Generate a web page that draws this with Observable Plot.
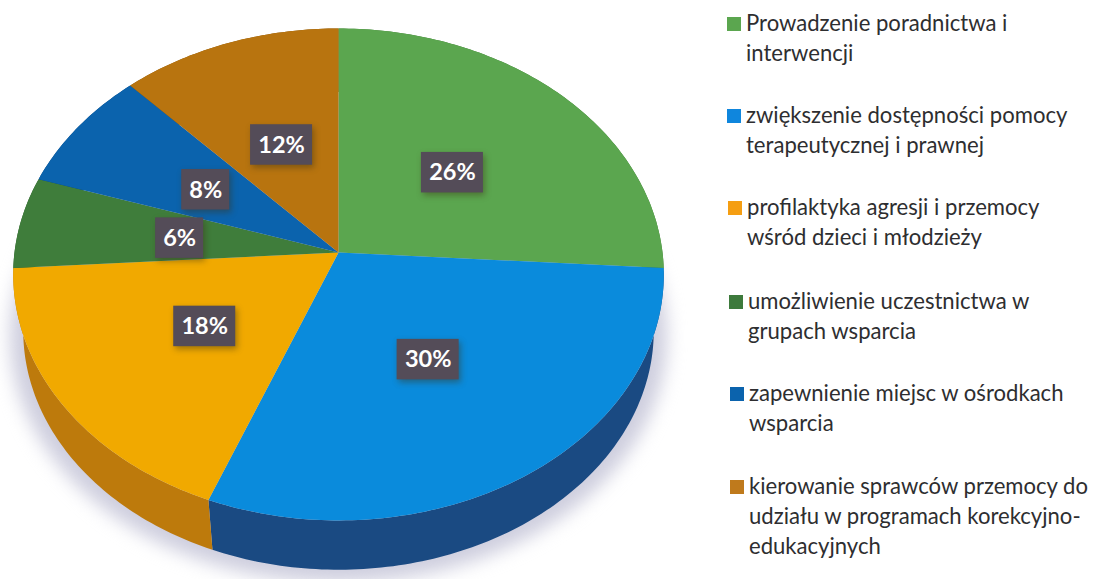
<!DOCTYPE html>
<html lang="pl">
<head>
<meta charset="utf-8">
<script src="https://cdn.jsdelivr.net/npm/d3@7"></script>
<script src="https://cdn.jsdelivr.net/npm/@observablehq/plot@0.6"></script>
<style>
  html, body { margin: 0; padding: 0; background: #fff; overflow: hidden; }
  #wrap { position: relative; width: 1093px; height: 579px; }
  svg { display: block; }
  .soft { filter: blur(9px); }
  .boxes { filter: drop-shadow(2px 3px 3px rgba(60,50,20,.45)); }
  .legend { position: absolute; font: 22.1px/30px Lato, "Open Sans", sans-serif; color: #2e2e30; }
  .legend i { position: absolute; left: -19px; top: 9px; width: 14px; height: 14px; }
</style>
</head>
<body>
<div id="wrap"></div>
<script>
const categories = [
  "Prowadzenie poradnictwa i interwencji",
  "zwiększenie dostępności pomocy terapeutycznej i prawnej",
  "profilaktyka agresji i przemocy wśród dzieci i młodzieży",
  "umożliwienie uczestnictwa w grupach wsparcia",
  "zapewnienie miejsc w ośrodkach wsparcia",
  "kierowanie sprawców przemocy do udziału w programach korekcyjno-edukacyjnych"
];
const values = [26, 30, 18, 6, 8, 12];
const topColors = ["#5ba64f", "#0a8bdc", "#f1a900", "#3f7d3b", "#0b63ad", "#b8740f"];
const sideColors = ["#3f7a35", "#1a4a82", "#bd7a0c", "#2b5a2a", "#0a4478", "#85530a"];
const legendColors = ["#5ba64f", "#0f86dd", "#f59e12", "#3d7a3c", "#0b63ad", "#bf7a1c"];
const legendLines = [
  ["Prowadzenie poradnictwa i", "interwencji"],
  ["zwiększenie dostępności pomocy", "terapeutycznej i prawnej"],
  ["profilaktyka agresji i przemocy", "wśród dzieci i młodzieży"],
  ["umożliwienie uczestnictwa w", "grupach wsparcia"],
  ["zapewnienie miejsc w ośrodkach", "wsparcia"],
  ["kierowanie sprawców przemocy do", "udziału w programach korekcyjno-", "edukacyjnych"]
];
const legendTops = [8, 100, 192, 286, 378, 471];
const legendLefts = [746, 746, 747, 748, 749, 749];

// perspective disc: the pie's tilted circle, centred on the hub
const width = 1093, height = 579;
const cx = 338, cy = 252, k = 0.0893;
const project = (a, r, disc) => {
  const u = Math.sin(a) * r, v = Math.cos(a) * r, w = 1 + k * v;
  return [cx + disc.b * u / w, cy + disc.d - disc.a * v / w];
};
const topDisc = {a: 244, b: 324, d: 0};
const lowDisc = {a: 237, b: 314, d: 57};
const total = d3.sum(values);
const arcs = d3.pie().sort(null).value(d => d)(values);
const step = Math.PI / 180;
const arcPts = (s, disc) => {
  const n = Math.max(2, Math.ceil((s.endAngle - s.startAngle) / step));
  return d3.range(n + 1).map(i => project(s.startAngle + (s.endAngle - s.startAngle) * i / n, 1, disc));
};
const topRows = [], sideRows = [], shadowRows = [];
arcs.forEach((s, i) => {
  const hub = project(0, 0, topDisc);
  [hub, ...arcPts(s, topDisc)].forEach(([x, y]) => topRows.push({x, y, z: i, fill: topColors[i]}));
  [...arcPts(s, topDisc), ...arcPts(s, lowDisc).reverse()].forEach(([x, y]) => sideRows.push({x, y, z: i, fill: sideColors[i]}));
});
d3.range(361).forEach(i => {
  const [x, y] = project(i * step, 1, {a: 244, b: 327, d: 62});
  shadowRows.push({x, y});
});
const labels = arcs.map((s, i) => {
  const [x, y] = project((s.startAngle + s.endAngle) / 2, 0.497, topDisc);
  const text = `${values[i]}%`;
  const half = values[i] < 10 ? 24 : 31;
  return {x, y: y + 1, text, x1: x - half, x2: x + half, y1: y - 19.5, y2: y + 21};
});

const plot = Plot.plot({
  width, height,
  margin: 0,
  x: {domain: [0, width], range: [0, width], axis: null},
  y: {domain: [0, height], range: [0, height], axis: null},
  style: {background: "transparent"},
  marks: [
    Plot.line(shadowRows, {x: "x", y: "y", fill: "#c6c6d8", fillOpacity: 0.85, stroke: "none", className: "soft"}),
    Plot.line(sideRows, {x: "x", y: "y", z: "z", fill: "fill", stroke: "none"}),
    Plot.line(topRows, {x: "x", y: "y", z: "z", fill: "fill", stroke: "none"}),
    Plot.rect(labels, {x1: "x1", x2: "x2", y1: "y1", y2: "y2", fill: "#544c58", className: "boxes"}),
    Plot.text(labels, {x: "x", y: "y", text: "text", fill: "#fff", fontSize: 23.5, fontWeight: 700, fontFamily: "Lato, sans-serif"})
  ]
});
const wrap = document.getElementById("wrap");
wrap.appendChild(plot);
legendLines.forEach((lines, i) => {
  const div = document.createElement("div");
  div.className = "legend";
  div.style.left = legendLefts[i] + "px";
  div.style.top = legendTops[i] + "px";
  const sw = document.createElement("i");
  sw.style.background = legendColors[i];
  div.appendChild(sw);
  lines.forEach(line => {
    const row = document.createElement("div");
    row.style.whiteSpace = "nowrap";
    row.textContent = line;
    div.appendChild(row);
  });
  wrap.appendChild(div);
});
</script>
</body>
</html>
